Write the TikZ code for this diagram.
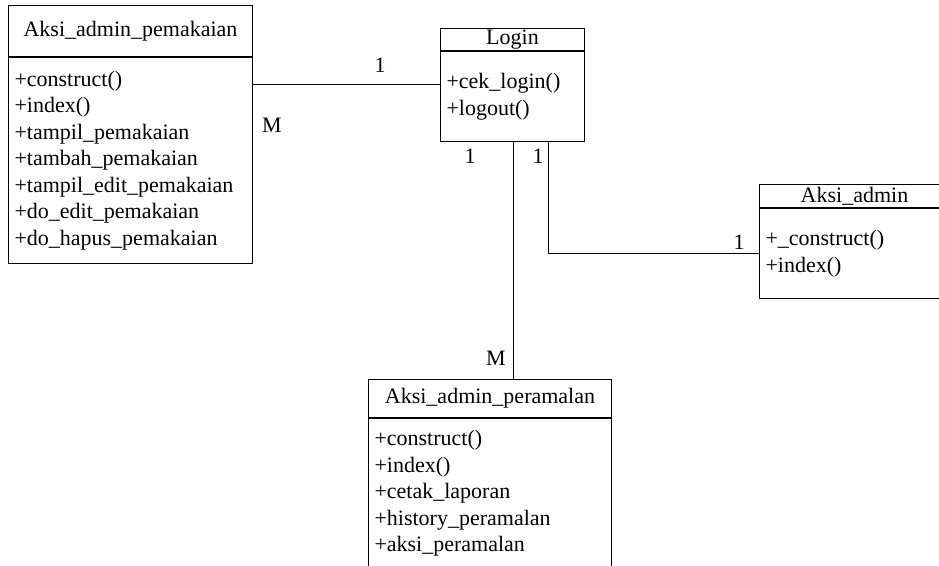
\documentclass[tikz,border=0pt]{standalone}
\usepackage{fontspec}
\setmainfont{Liberation Serif}
\usetikzlibrary{positioning}

\begin{document}
\begin{tikzpicture}[x=1pt, y=-1pt,
    font=\fontsize{22pt}{26.5pt}\selectfont,
    classtitle/.style 2 args={draw, line width=1pt, inner sep=0pt,
        minimum width=#1, minimum height=#2},
    classbody/.style 2 args={draw, line width=1pt, inner xsep=6pt, inner ysep=0pt,
        text width=#1, minimum height=#2, align=left},
    link/.style={line width=1pt}]
  \useasboundingbox (0,0) rectangle (939,565);

  %% classes
  \node[classtitle={244pt}{51pt}, anchor=north west] (pemTitle) at (8,5) {Aksi\_admin\_pemakaian};
  \node[classbody={232pt}{206pt}, below=0pt of pemTitle] (pemBody)
      {+construct()\\+index()\\+tampil\_pemakaian\\+tambah\_pemakaian\\+tampil\_edit\_pemakaian\\+do\_edit\_pemakaian\\+do\_hapus\_pemakaian};

  \node[classtitle={144pt}{22pt}, anchor=north west] (loginTitle) at (440,28) {Login};
  \node[classbody={132pt}{90pt}, below=0pt of loginTitle] (loginBody)
      {+cek\_login()\\+logout()};

  \node[classtitle={190pt}{23pt}, anchor=north west] (adminTitle) at (759,184) {Aksi\_admin};
  \node[classbody={178pt}{90pt}, below=0pt of adminTitle] (adminBody)
      {+\_construct()\\+index()};

  \node[classtitle={243pt}{38pt}, anchor=north west] (peraTitle) at (368,379) {Aksi\_admin\_peramalan};
  \node[classbody={231pt}{150pt}, below=0pt of peraTitle] (peraBody)
      {+construct()\\+index()\\+cetak\_laporan\\+history\_peramalan\\+aksi\_peramalan};

  %% connectors
  \coordinate (pemLink) at (0,84);
  \coordinate (peraLink) at (513,0);
  \coordinate (adminLink) at (548,253);
  \draw[link] (pemBody.east |- pemLink) -- (loginBody.west |- pemLink);
  \draw[link] (loginBody.south -| peraLink) -- (peraTitle.north -| peraLink);
  \draw[link] (loginBody.south -| adminLink) |- (adminBody.west |- adminLink);

  %% multiplicities
  \foreach \name/\pos/\txt in {pemOne/{(380,65)}/1, pemMany/{(272,125)}/M,
      loginOne/{(470,156)}/1, loginTwo/{(538,156)}/1,
      adminOne/{(739,242)}/1, peraMany/{(496,358)}/M} {
    \node (\name) at \pos {\txt};
  }
\end{tikzpicture}
\end{document}
